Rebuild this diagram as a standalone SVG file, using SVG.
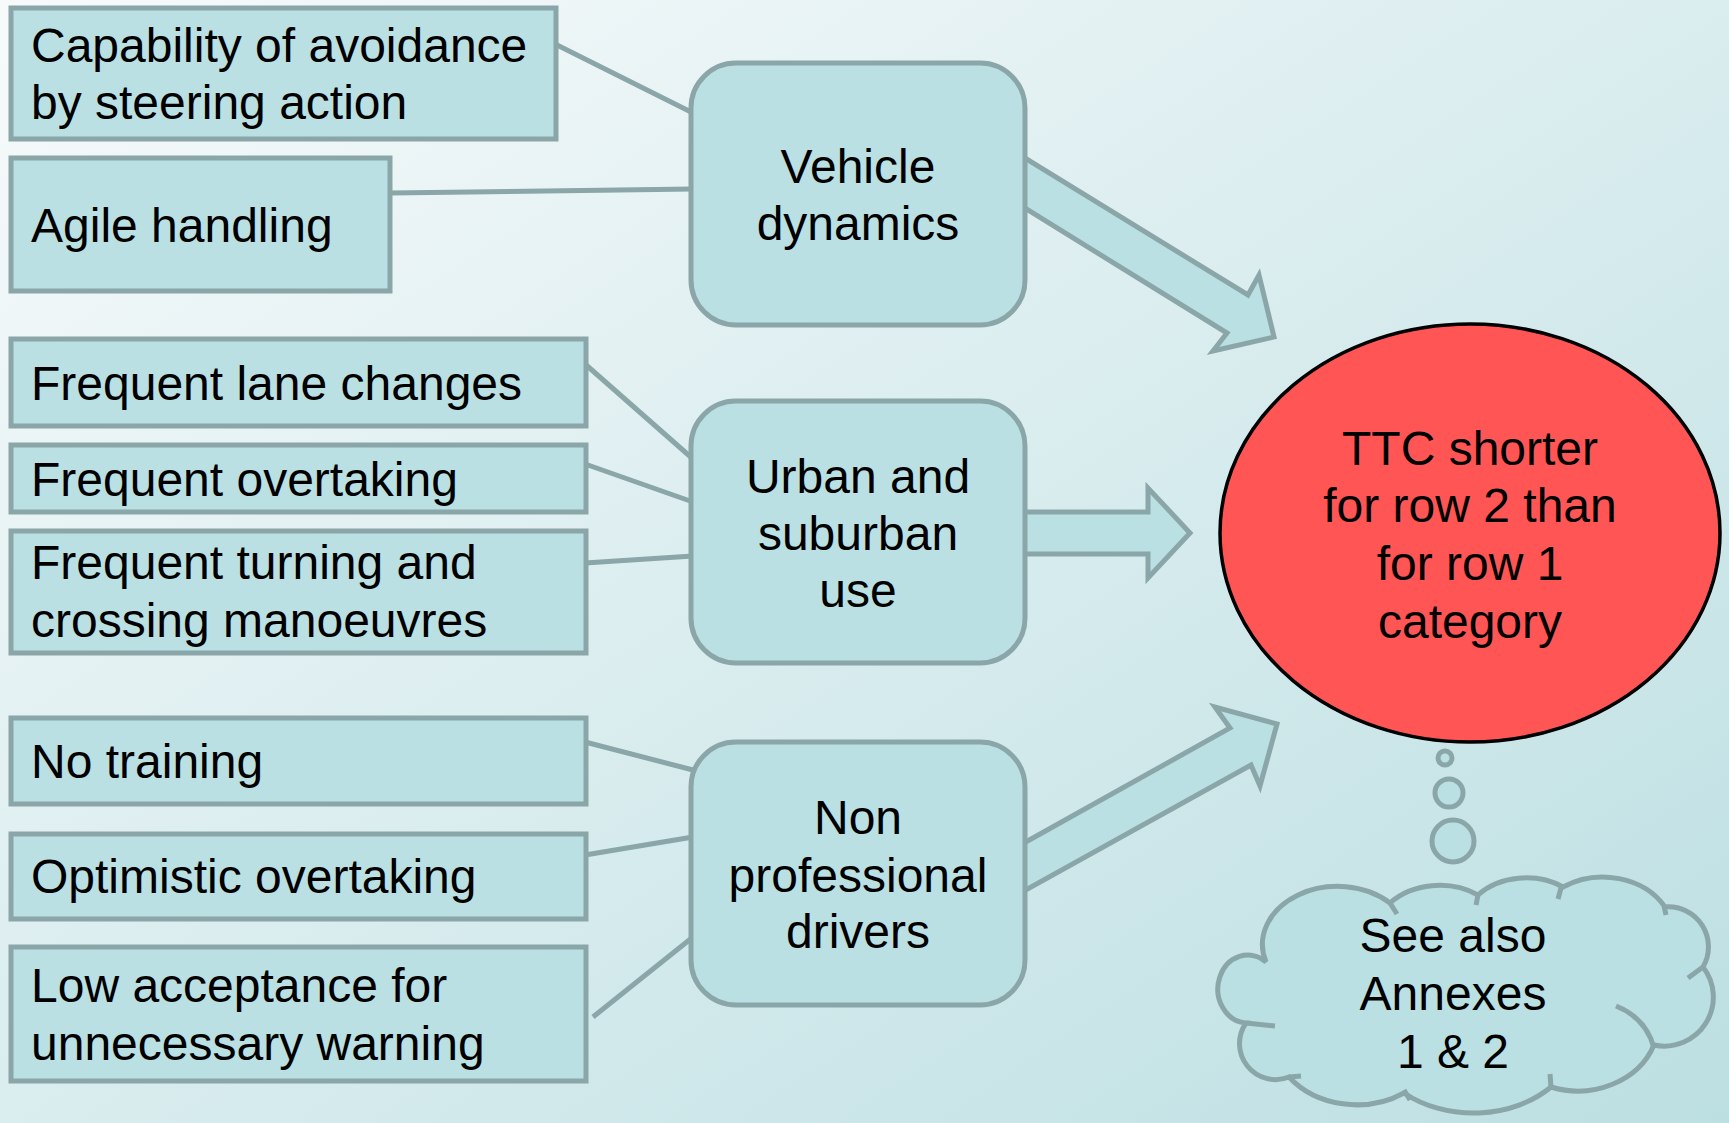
<svg xmlns="http://www.w3.org/2000/svg" width="1729" height="1123" viewBox="0 0 1729 1123">
<defs>
<linearGradient id="bg" x1="0" y1="0" x2="1" y2="1">
<stop offset="0" stop-color="#F7FAFB"/>
<stop offset="1" stop-color="#BCDFE2"/>
</linearGradient>
<style>
.box{fill:#BAE0E3;stroke:#8AA6A8;stroke-width:5}
.ln{stroke:#8AA6A8;stroke-width:5;fill:none}
.arr{fill:#BAE0E3;stroke:#8AA6A8;stroke-width:5;stroke-linejoin:miter}
.t{font-family:"Liberation Sans",Arial,sans-serif;font-size:48px;fill:#000}
.c{text-anchor:middle}
.stub{fill:none;stroke:#8AA6A8;stroke-width:5}
</style>
</defs>
<rect x="0" y="0" width="1729" height="1123" fill="url(#bg)"/>

<g id="connectors">
<line class="ln" x1="555" y1="44" x2="693" y2="113"/>
<line class="ln" x1="390" y1="193" x2="693" y2="189"/>
<line class="ln" x1="585" y1="364" x2="693" y2="459"/>
<line class="ln" x1="585" y1="464" x2="693" y2="502"/>
<line class="ln" x1="585" y1="563" x2="693" y2="556"/>
<line class="ln" x1="585" y1="742" x2="693" y2="770"/>
<line class="ln" x1="585" y1="855" x2="693" y2="837"/>
<line class="ln" x1="593" y1="1017" x2="693" y2="937"/>
<polygon class="arr" points="1015,152 1248,295 1259,275 1274,337 1213,351 1227,333 1015,202"/>
<polygon class="arr" points="1015,512 1148,512 1148,488 1190,533 1148,578 1148,554 1015,554"/>
<polygon class="arr" points="1015,848 1230,728 1215,707 1277,724 1260,786 1251,765 1015,896"/>
</g>

<g id="n-capability">
<rect class="box" x="11" y="8" width="545" height="131"/>
<text class="t" x="31" y="62">Capability of avoidance</text>
<text class="t" x="31" y="119">by steering action</text>
</g>
<g id="n-agile">
<rect class="box" x="11" y="158" width="379" height="133"/>
<text class="t" x="31" y="242">Agile handling</text>
</g>
<g id="n-lane">
<rect class="box" x="11" y="339" width="575" height="87"/>
<text class="t" x="31" y="400">Frequent lane changes</text>
</g>
<g id="n-overtaking">
<rect class="box" x="11" y="445" width="575" height="67"/>
<text class="t" x="31" y="496">Frequent overtaking</text>
</g>
<g id="n-turning">
<rect class="box" x="11" y="531" width="575" height="122"/>
<text class="t" x="31" y="579">Frequent turning and</text>
<text class="t" x="31" y="637">crossing manoeuvres</text>
</g>
<g id="n-notraining">
<rect class="box" x="11" y="718" width="575" height="86"/>
<text class="t" x="31" y="778">No training</text>
</g>
<g id="n-optimistic">
<rect class="box" x="11" y="834" width="575" height="85"/>
<text class="t" x="31" y="893">Optimistic overtaking</text>
</g>
<g id="n-lowacceptance">
<rect class="box" x="11" y="947" width="575" height="134"/>
<text class="t" x="31" y="1002">Low acceptance for</text>
<text class="t" x="31" y="1060">unnecessary warning</text>
</g>

<g id="n-vehicle">
<rect class="box" x="691" y="63" width="334" height="262" rx="45" ry="45"/>
<text class="t c" x="858" y="183">Vehicle</text>
<text class="t c" x="858" y="240">dynamics</text>
</g>
<g id="n-urban">
<rect class="box" x="691" y="401" width="334" height="262" rx="45" ry="45"/>
<text class="t c" x="858" y="493">Urban and</text>
<text class="t c" x="858" y="550">suburban</text>
<text class="t c" x="858" y="607">use</text>
</g>
<g id="n-nonpro">
<rect class="box" x="691" y="742" width="334" height="263" rx="45" ry="45"/>
<text class="t c" x="858" y="834">Non</text>
<text class="t c" x="858" y="892">professional</text>
<text class="t c" x="858" y="948">drivers</text>
</g>

<g id="n-ttc">
<ellipse cx="1470" cy="533" rx="250" ry="209" fill="#FF5555" stroke="#000" stroke-width="3.5"/>
<text class="t c" x="1470" y="465">TTC shorter</text>
<text class="t c" x="1470" y="522">for row 2 than</text>
<text class="t c" x="1470" y="580">for row 1</text>
<text class="t c" x="1470" y="638">category</text>
</g>

<g id="n-cloud">
<circle cx="1445" cy="758" r="7" class="box"/>
<circle cx="1449" cy="793" r="14" class="box"/>
<circle cx="1453" cy="841" r="21" class="box"/>
<path class="box" d="M 1266 962 A 75 58 0 0 1 1390 903 A 65 50 0 0 1 1478 895 A 64 50 0 0 1 1563 887 A 72 60 0 0 1 1665 907 A 40 40 0 0 1 1703 967 A 49 49 0 0 1 1654 1045 A 81 70 0 0 1 1551 1087 A 105 80 0 0 1 1404 1093 A 85 70 0 0 1 1289 1077 A 36 36 0 0 1 1246 1023 A 30 34 0 1 1 1266 962 Z"/>
<path class="stub" d="M 1390 903 L 1397 914 M 1478 895 L 1476 905 M 1561 888 L 1558 899 M 1664 906 L 1666 915 M 1703 967 L 1688 978 M 1551 1087 L 1550 1074 M 1404 1090 L 1410 1100 M 1289 1077 L 1301 1076 M 1246 1023 L 1275 1026 M 1616 1006 Q 1646 1018 1654 1048"/>
<text class="t c" x="1453" y="952">See also</text>
<text class="t c" x="1453" y="1010">Annexes</text>
<text class="t c" x="1453" y="1068">1 &amp; 2</text>
</g>
</svg>
